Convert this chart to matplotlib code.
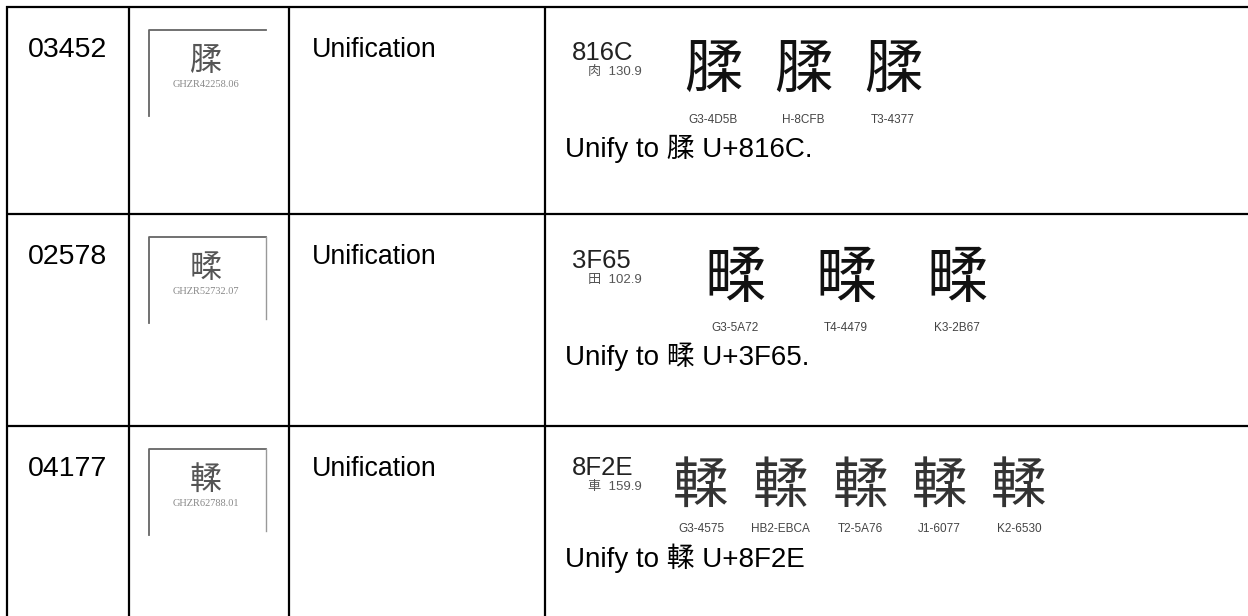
import matplotlib.pyplot as plt

# table content
case_ids = ["03452", "02578", "04177"]
actions = ["Unification", "Unification", "Unification"]
ev_chars = ["腬", "㽥", "輮"]
ev_codes = ["GHZR42258.06", "GHZR52732.07", "GHZR62788.01"]
code_points = ["816C", "3F65", "8F2E"]
radicals = ["肉  130.9", "田  102.9", "車  159.9"]
src_labels = [
    ["G3-4D5B", "H-8CFB", "T3-4377"],
    ["G3-5A72", "T4-4479", "K3-2B67"],
    ["G3-4575", "HB2-EBCA", "T2-5A76", "J1-6077", "K2-6530"],
]
notes = ["Unify to 腬 U+816C.", "Unify to 㽥 U+3F65.", "Unify to 輮 U+8F2E"]

# fonts for each source prefix
src_font = {"G": "Noto Sans CJK SC", "H": "Noto Sans CJK TC", "T": "Noto Sans CJK TC",
            "J": "Noto Sans CJK JP", "K": "Noto Sans CJK KR"}

W, H = 1248, 616
fig = plt.figure(figsize=(W / 100, H / 100), dpi=100)
ax = fig.add_axes([0, 0, 1, 1])
ax.set_xlim(0, W)
ax.set_ylim(H, 0)
ax.axis("off")

# grid
row_tops = [7, 214, 426]
col_x = [7, 129, 289, 545]
for x in col_x:
    ax.plot([x, x], [row_tops[0] - 1, H], color="black", lw=1.6, solid_capstyle="butt")
for y in row_tops:
    ax.plot([col_x[0] - 1, W], [y, y], color="black", lw=1.6, solid_capstyle="butt")

sans = ["Liberation Sans", "Noto Sans CJK SC"]
# per-row layout: first glyph x, spacing, glyph y, label y, note y, glyph size
glyph_x0 = [713, 735, 701]
glyph_dx = [90, 111, 79.5]
glyph_dy = [64, 66, 61]
label_dy = [116, 117, 106]
note_dy = [150, 151, 141]
code_dy = [53, 54, 49]
glyph_fs = [42, 44, 40]

for i, top in enumerate(row_tops):
    ax.text(28, top + 50, case_ids[i], fontsize=20.5, family=sans, va="baseline")
    ax.text(312, top + 50, actions[i], fontsize=19.3, family=sans, va="baseline")

    # evidence image box
    bx0, by0, bw = 149, top + 23, 117
    ax.plot([bx0, bx0, bx0 + bw], [by0 + 86, by0, by0], color="#666666", lw=1.3)
    if i > 0:
        ax.plot([bx0 + bw, bx0 + bw], [by0, by0 + 82], color="#999999", lw=1.0)
    ax.text(bx0 + 57, top + 54, ev_chars[i], fontsize=23, color="#555555",
            family=["Noto Sans CJK SC"], ha="center", va="center")
    ax.text(bx0 + 57, top + 80, ev_codes[i], fontsize=7.5, color="#888888",
            family=["Liberation Serif"], ha="center", va="baseline")

    # code chart excerpt
    ax.text(572, top + code_dy[i], code_points[i], fontsize=18.5, color="#222222",
            family=sans, va="baseline")
    ax.text(588, top + code_dy[i] + 15, radicals[i], fontsize=9.5, color="#555555",
            family=sans, va="baseline")
    for j, lab in enumerate(src_labels[i]):
        gx = glyph_x0[i] + j * glyph_dx[i]
        ax.text(gx, top + glyph_dy[i], ev_chars[i], fontsize=glyph_fs[i],
                family=[src_font[lab[0]]], ha="center", va="center",
                color="#111111" if i < 2 else "#333333")
        ax.text(gx, top + label_dy[i], lab, fontsize=8.5, color="#444444",
                family=sans, ha="center", va="baseline")

    ax.text(565, top + note_dy[i], notes[i], fontsize=20, family=sans, va="baseline")

fig.savefig("out.png", dpi=100)
